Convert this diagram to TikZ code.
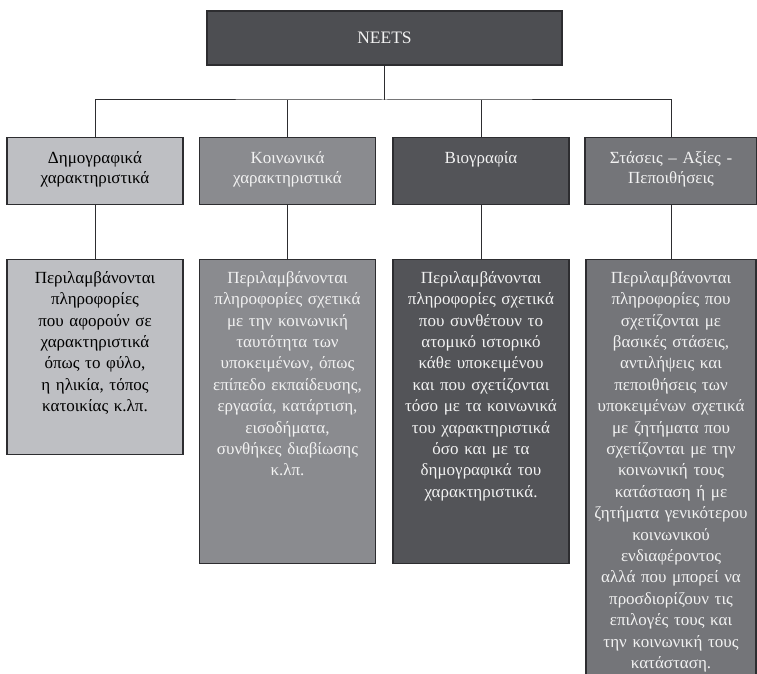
\documentclass[tikz,border=0pt]{standalone}
\usepackage{fontspec}
\setmainfont{Liberation Serif}
\definecolor{neetsgray}{RGB}{77,78,82}
\definecolor{demogray}{RGB}{190,191,195}
\definecolor{koingray}{RGB}{138,139,143}
\definecolor{biogray}{RGB}{83,84,88}
\definecolor{stasgray}{RGB}{116,117,121}
\definecolor{framegray}{RGB}{45,45,48}
\definecolor{paleink}{RGB}{242,242,242}

\begin{document}
\begin{tikzpicture}[x=1pt,y=-1pt,
  box/.style={draw=framegray,line width=1.1pt,anchor=north,inner sep=0pt,
    minimum width=176pt,text width=174pt,align=center},
  head/.style={box,text height=25.7pt,text depth=41.3pt,font=\fontsize{17}{20}\selectfont},
  info/.style={box,text height=23.7pt,font=\fontsize{17}{21.4}\selectfont},
  wire/.style={framegray,line width=1pt}]
  \useasboundingbox (0,0) rectangle (757,674);
  \node[draw=framegray,line width=1.1pt,fill=neetsgray,text=paleink,minimum width=355pt,minimum height=54pt,
    font=\fontsize{17.5}{20}\selectfont] (neets) at (384.5,38) {NEETS};
  % second row
  \node[head,fill=demogray] (demo) at (95,137) {Δημογραφικά\\χαρακτηριστικά};
  \node[head,fill=koingray,text=paleink] (koin) at (287.5,137) {Κοινωνικά\\χαρακτηριστικά};
  \node[head,fill=biogray,text=paleink] (bio) at (481,137) {Βιογραφία};
  \node[head,fill=stasgray,text=paleink,minimum width=172pt,text width=170pt] (stas) at (671,137) {Στάσεις – Αξίες -\\Πεποιθήσεις};
  % third row
  \node[info,fill=demogray,text depth=171.3pt] (demoinfo) at (95,259)
    {Περιλαμβάνονται\\πληροφορίες\\που αφορούν σε\\χαρακτηριστικά\\όπως το φύλο,\\η ηλικία, τόπος\\κατοικίας κ.λπ.};
  \node[info,fill=koingray,text=paleink,text depth=280.3pt] (koininfo) at (287.5,259)
    {Περιλαμβάνονται\\πληροφορίες σχετικά\\με την κοινωνική\\ταυτότητα των\\υποκειμένων, όπως\\επίπεδο εκπαίδευσης,\\εργασία, κατάρτιση,\\εισοδήματα,\\συνθήκες διαβίωσης\\κ.λπ.};
  \node[info,fill=biogray,text=paleink,text depth=280.3pt] (bioinfo) at (481,259)
    {Περιλαμβάνονται\\πληροφορίες σχετικά\\που συνθέτουν το\\ατομικό ιστορικό\\κάθε υποκειμένου\\και που σχετίζονται\\τόσο με τα κοινωνικά\\του χαρακτηριστικά\\όσο και με τα\\δημογραφικά του\\χαρακτηριστικά.};
  \node[info,fill=stasgray,text=paleink,minimum width=170pt,text width=168pt,text depth=396.3pt] (stasinfo) at (671,259)
    {Περιλαμβάνονται\\πληροφορίες που\\σχετίζονται με\\βασικές στάσεις,\\αντιλήψεις και\\πεποιθήσεις των\\υποκειμένων σχετικά\\με ζητήματα που\\σχετίζονται με την\\κοινωνική τους\\κατάσταση ή με\\ζητήματα γενικότερου\\κοινωνικού\\ενδιαφέροντος\\αλλά που μπορεί να\\προσδιορίζουν τις\\επιλογές τους και\\την κοινωνική τους\\κατάσταση.};
  % connectors
  \coordinate (bus) at (384.5,100);
  \draw[wire] (neets.south) -- (bus);
  \draw[wire] (demo.north) |- (bus) -| (stas.north);
  \draw[wire] (koin.north) -- (koin.north |- bus);
  \draw[wire] (bio.north) -- (bio.north |- bus);
  \draw[wire] (demo) -- (demoinfo);
  \draw[wire] (koin) -- (koininfo);
  \draw[wire] (bio) -- (bioinfo);
  \draw[wire] (stas) -- (stasinfo);
\end{tikzpicture}
\end{document}
